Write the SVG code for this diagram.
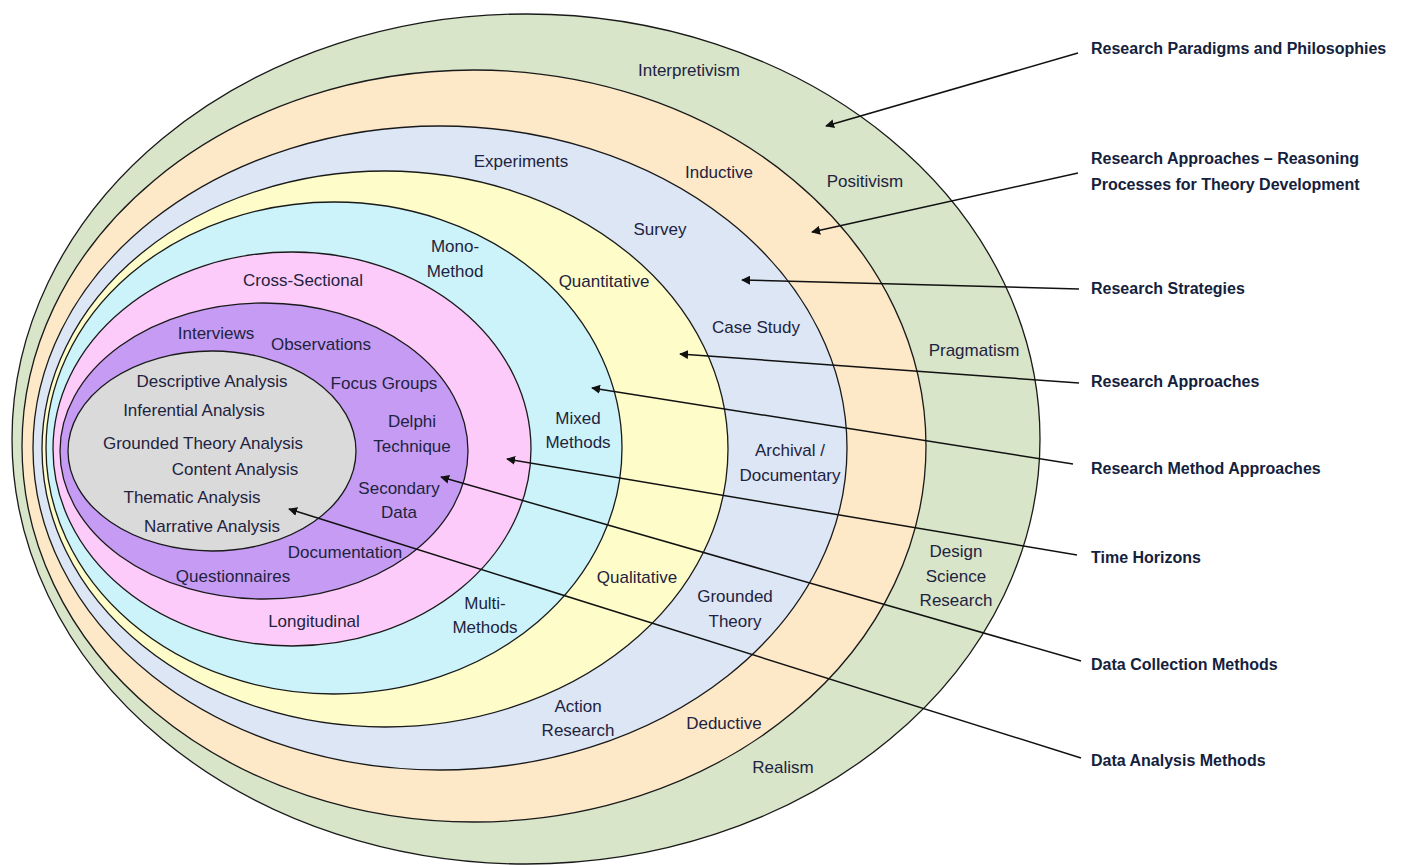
<svg xmlns="http://www.w3.org/2000/svg" width="1405" height="865" viewBox="0 0 1405 865">
  <defs>
    <style>
      .ring { stroke: #1a1a1a; stroke-width: 1.3; }
      .lbl { font-family: "Liberation Sans", Arial, sans-serif; font-size: 17px; fill: #1e2340; text-anchor: middle; }
      .key { font-family: "Liberation Sans", Arial, sans-serif; font-size: 16px; font-weight: bold; fill: #14213d; }
      .conn { stroke: #111; stroke-width: 1.5; fill: none; marker-end: url(#arrow); }
    </style>
    <marker id="arrow" viewBox="0 0 10 10" refX="9" refY="5" markerWidth="9" markerHeight="9" markerUnits="userSpaceOnUse" orient="auto">
      <path d="M0,0 L10,5 L0,10 z" fill="#111"/>
    </marker>
  </defs>
  <rect width="1405" height="865" fill="#ffffff"/>

  <!-- nested layers, outermost first -->
  <g id="philosophies">
    <ellipse class="ring" cx="526" cy="439" rx="514" ry="425" fill="#d8e5c8"/>
    <text class="lbl" x="689" y="76">Interpretivism</text>
    <text class="lbl" x="865" y="187">Positivism</text>
    <text class="lbl" x="974" y="356">Pragmatism</text>
    <text class="lbl" x="956" y="557">Design</text>
    <text class="lbl" x="956" y="582">Science</text>
    <text class="lbl" x="956" y="606">Research</text>
    <text class="lbl" x="783" y="773">Realism</text>
  </g>
  <g id="reasoning">
    <ellipse class="ring" cx="474" cy="446" rx="452" ry="376" fill="#fde8c8"/>
    <text class="lbl" x="719" y="178">Inductive</text>
    <text class="lbl" x="724" y="729">Deductive</text>
  </g>
  <g id="strategies">
    <ellipse class="ring" cx="440" cy="448" rx="407" ry="322" fill="#dce6f5"/>
    <text class="lbl" x="521" y="167">Experiments</text>
    <text class="lbl" x="660" y="235">Survey</text>
    <text class="lbl" x="756" y="333">Case Study</text>
    <text class="lbl" x="790" y="456">Archival /</text>
    <text class="lbl" x="790" y="481">Documentary</text>
    <text class="lbl" x="735" y="602">Grounded</text>
    <text class="lbl" x="735" y="627">Theory</text>
    <text class="lbl" x="578" y="712">Action</text>
    <text class="lbl" x="578" y="736">Research</text>
  </g>
  <g id="approaches">
    <ellipse class="ring" cx="385" cy="449" rx="343" ry="278" fill="#fefdca"/>
    <text class="lbl" x="604" y="287">Quantitative</text>
    <text class="lbl" x="637" y="583">Qualitative</text>
  </g>
  <g id="method-approaches">
    <ellipse class="ring" cx="334" cy="448" rx="288" ry="246" fill="#ccf3fa"/>
    <text class="lbl" x="455" y="252">Mono-</text>
    <text class="lbl" x="455" y="277">Method</text>
    <text class="lbl" x="578" y="424">Mixed</text>
    <text class="lbl" x="578" y="448">Methods</text>
    <text class="lbl" x="485" y="609">Multi-</text>
    <text class="lbl" x="485" y="633">Methods</text>
  </g>
  <g id="time-horizons">
    <ellipse class="ring" cx="292" cy="449" rx="239" ry="197" fill="#fdcbfa"/>
    <text class="lbl" x="303" y="286">Cross-Sectional</text>
    <text class="lbl" x="314" y="627">Longitudinal</text>
  </g>
  <g id="data-collection">
    <ellipse class="ring" cx="264" cy="451" rx="204" ry="148" fill="#c59bf4"/>
    <text class="lbl" x="216" y="339">Interviews</text>
    <text class="lbl" x="321" y="350">Observations</text>
    <text class="lbl" x="384" y="389">Focus Groups</text>
    <text class="lbl" x="412" y="427">Delphi</text>
    <text class="lbl" x="412" y="452">Technique</text>
    <text class="lbl" x="399" y="494">Secondary</text>
    <text class="lbl" x="399" y="518">Data</text>
    <text class="lbl" x="345" y="558">Documentation</text>
    <text class="lbl" x="233" y="582">Questionnaires</text>
  </g>
  <g id="data-analysis">
    <ellipse class="ring" cx="212" cy="451" rx="144" ry="100" fill="#dadada"/>
    <text class="lbl" x="212" y="387">Descriptive Analysis</text>
    <text class="lbl" x="194" y="416">Inferential Analysis</text>
    <text class="lbl" x="203" y="449">Grounded Theory Analysis</text>
    <text class="lbl" x="235" y="475">Content Analysis</text>
    <text class="lbl" x="192" y="503">Thematic Analysis</text>
    <text class="lbl" x="212" y="532">Narrative Analysis</text>
  </g>

  <!-- layer captions -->
  <g id="captions">
    <text class="key" x="1091" y="54">Research Paradigms and Philosophies</text>
    <text class="key" x="1091" y="164">Research Approaches – Reasoning</text>
    <text class="key" x="1091" y="190">Processes for Theory Development</text>
    <text class="key" x="1091" y="294">Research Strategies</text>
    <text class="key" x="1091" y="387">Research Approaches</text>
    <text class="key" x="1091" y="474">Research Method Approaches</text>
    <text class="key" x="1091" y="563">Time Horizons</text>
    <text class="key" x="1091" y="670">Data Collection Methods</text>
    <text class="key" x="1091" y="766">Data Analysis Methods</text>
  </g>

  <!-- pointers from captions into their layers -->
  <g id="connectors">
    <line class="conn" x1="1078" y1="53" x2="826" y2="126"/>
    <line class="conn" x1="1078" y1="173" x2="812" y2="232"/>
    <line class="conn" x1="1079" y1="289" x2="742" y2="280"/>
    <line class="conn" x1="1079" y1="383" x2="680" y2="354"/>
    <line class="conn" x1="1073" y1="464" x2="592" y2="388"/>
    <line class="conn" x1="1077" y1="555" x2="507" y2="459"/>
    <line class="conn" x1="1081" y1="661" x2="441" y2="477"/>
    <line class="conn" x1="1081" y1="758" x2="289" y2="509"/>
  </g>
</svg>
